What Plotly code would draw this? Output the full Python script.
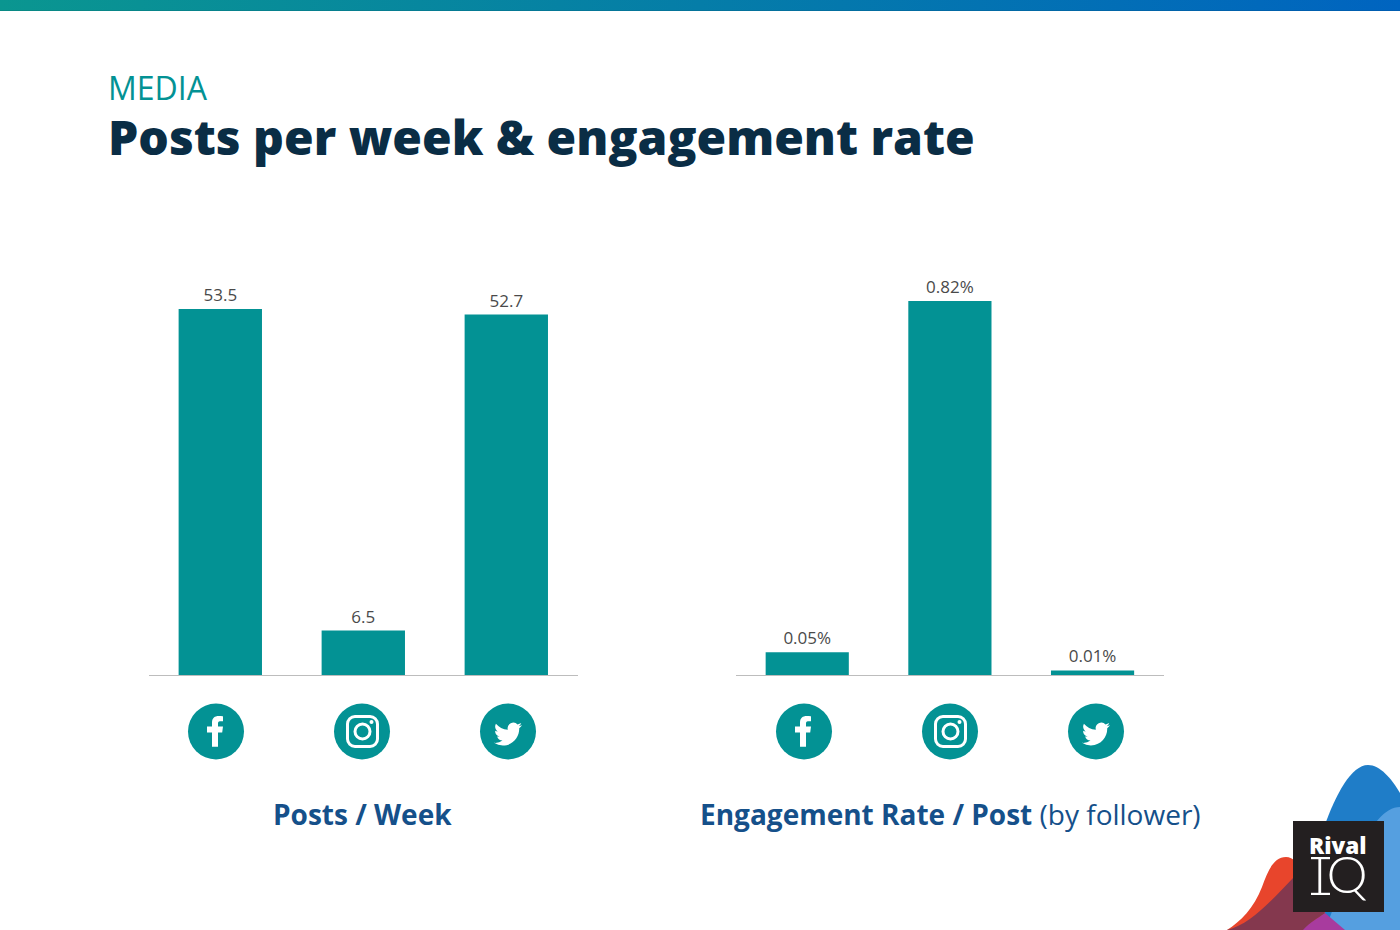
import base64
import plotly.graph_objects as go
from plotly.subplots import make_subplots

W, H = 1400, 930

# ---------- data ----------
categories = ["Facebook", "Instagram", "Twitter"]
posts_per_week = [53.5, 6.5, 52.7]
engagement_rate = [0.05, 0.82, 0.01]
posts_labels = ["53.5", "6.5", "52.7"]
engagement_labels = ["0.05%", "0.82%", "0.01%"]

eyebrow = "MEDIA"
title = "Posts per week & engagement rate"
left_caption = "<b>Posts / Week</b>"
right_caption = "<b>Engagement Rate / Post</b> (by follower)"

TEAL = "#039294"
NAVY = "#0a2d45"
CAPTION = "#15508a"
LABEL = "#4a4a4a"
FONT = "Open Sans"


def px(x):
    return x / W


def py(y):
    return 1 - y / H


# ---------- decorative artwork (icons, gradient band, logo blobs) ----------
TWITTER = ("M23.953 4.57a10 10 0 01-2.825.775 4.958 4.958 0 002.163-2.723c-.951.555-2.005.959-3.127 1.184"
           "a4.92 4.92 0 00-8.384 4.482C7.69 8.095 4.067 6.13 1.64 3.162a4.822 4.822 0 00-.666 2.475"
           "c0 1.71.87 3.213 2.188 4.096a4.904 4.904 0 01-2.228-.616v.06a4.923 4.923 0 003.946 4.827"
           " 4.996 4.996 0 01-2.212.085 4.936 4.936 0 004.604 3.417 9.867 9.867 0 01-6.102 2.105"
           "c-.39 0-.779-.023-1.17-.067a13.995 13.995 0 007.557 2.209c9.053 0 13.998-7.496 13.998-13.985"
           " 0-.21 0-.42-.015-.63A9.935 9.935 0 0024 4.59z")
FB = ("M212 746.7V732.5H207V726.5H212V722.5C212 718 215 716 218.5 716C220.5 716 222 716.2 223 716.3"
      "V721.3H220C218.3 721.3 218 722.3 218 723.7V726.5H223L222.2 732.5H218V746.7Z")


def icons(dx):
    return f'''<g transform="translate({dx},0)">
<circle cx="216" cy="731.5" r="28" fill="{TEAL}"/><path d="{FB}" fill="#fff"/>
<circle cx="362" cy="731.5" r="28" fill="{TEAL}"/>
<rect x="347.5" y="716.5" width="30" height="30" rx="7.5" fill="none" stroke="#fff" stroke-width="3"/>
<circle cx="362.5" cy="731.5" r="7.5" fill="none" stroke="#fff" stroke-width="3"/>
<circle cx="371.5" cy="722" r="2" fill="#fff"/>
<circle cx="508" cy="731.5" r="28" fill="{TEAL}"/>
<path d="{TWITTER}" fill="#fff" transform="translate(494,720) scale(1.17)"/>
</g>'''


svg = f'''<svg xmlns="http://www.w3.org/2000/svg" width="{W}" height="{H}" viewBox="0 0 {W} {H}">
<defs><linearGradient id="g" x1="0" x2="1" y1="0" y2="0">
<stop offset="0" stop-color="#0a9690"/><stop offset="1" stop-color="#0064c0"/></linearGradient></defs>
<rect x="0" y="0" width="{W}" height="11" fill="url(#g)"/>
<rect x="0" y="10" width="{W}" height="1" fill="#000" fill-opacity="0.08"/>
<path d="M1300 930C1305 880 1335 765 1368 765C1380 765 1391 778 1400 793V930Z" fill="#1f7dc8"/>
<path d="M1325 930C1345 880 1370 807 1400 807V930Z" fill="#559fe0"/>
<path d="M1227 930C1240 922 1254 908 1262 887C1268 870 1274 857 1286 857C1300 857 1312 885 1325 913L1303 930Z" fill="#e8452c"/>
<path d="M1300 930C1310 922 1318 918 1325 913L1345 930Z" fill="#a83b9e"/>
<path d="M1227 930C1250 925 1272 900 1293 878L1325 913C1318 918 1310 922 1303 930Z" fill="#84384e"/>
<rect x="1293" y="821" width="91" height="91" fill="#231f20"/>
<rect x="1311" y="857" width="19" height="2.2" fill="#fff"/>
<rect x="1311" y="892.8" width="19" height="2.2" fill="#fff"/>
{icons(0)}{icons(588)}
</svg>'''
art = "data:image/svg+xml;base64," + base64.b64encode(svg.encode()).decode()

# ---------- chart ----------
fig = make_subplots(rows=1, cols=2)
bar_style = dict(marker_color=TEAL, marker_line_width=0, textposition="outside", cliponaxis=False,
                 textfont=dict(family=FONT, size=17, color=LABEL), showlegend=False, hoverinfo="skip")
fig.add_trace(go.Bar(x=categories, y=posts_per_week, text=posts_labels, **bar_style), row=1, col=1)
fig.add_trace(go.Bar(x=categories, y=engagement_rate, text=engagement_labels, **bar_style), row=1, col=2)

AX_TOP, AX_BOTTOM = 275, 675
fig.update_xaxes(showticklabels=False, ticks="", showgrid=False, zeroline=False,
                 showline=True, linecolor="#bdbdbd", linewidth=1)
fig.update_yaxes(visible=False, showgrid=False, zeroline=False)
fig.update_layout(
    width=W, height=H, margin=dict(l=0, r=0, t=0, b=0, autoexpand=False),
    paper_bgcolor="white", plot_bgcolor="rgba(0,0,0,0)", bargap=0.417,
    font=dict(family=FONT),
    xaxis=dict(domain=[px(148.8), px(577.8)]),
    xaxis2=dict(domain=[px(735.9), px(1163.9)]),
    yaxis=dict(domain=[py(AX_BOTTOM), py(AX_TOP)], range=[0, 400 / 6.84]),
    yaxis2=dict(domain=[py(AX_BOTTOM), py(AX_TOP)], range=[0, 400 / 456]),
    images=[dict(source=art, xref="paper", yref="paper", x=0, y=1, sizex=1, sizey=1,
                 xanchor="left", yanchor="top", sizing="stretch", layer="below")],
)


def note(text, x, y, size, color, family=FONT, anchor="left", weight=None):
    fig.add_annotation(text=text, xref="paper", yref="paper", x=px(x), y=py(y), showarrow=False,
                       xanchor=anchor, yanchor="middle", align=anchor,
                       font=dict(family=family, size=size, color=color, weight=weight))


note(eyebrow, 106, 87.5, 32, TEAL, weight=400)
note(title, 106, 136.5, 48, NAVY, weight=800)
note(left_caption, 362, 814, 28, CAPTION, anchor="center")
note(right_caption, 950, 814, 28, CAPTION, anchor="center")
note("Rival", 1338, 845, 22.5, "#ffffff", anchor="center", weight=800)
note("IQ", 1340, 873, 52, "#ffffff", family="Lato", anchor="center", weight=300)

fig.write_html("out.html", config={"displayModeBar": False}, post_script="document.body.style.margin='0';")
